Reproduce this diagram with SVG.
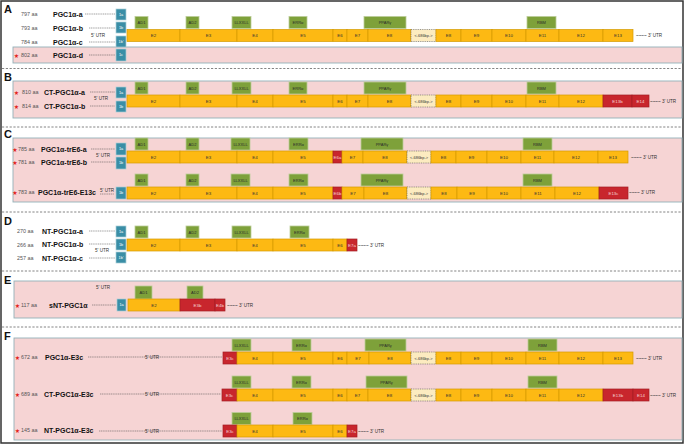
<svg xmlns="http://www.w3.org/2000/svg" width="685" height="445" viewBox="0 0 685 445">
<style>
text{font-family:"Liberation Sans",Arial,sans-serif;dominant-baseline:central}
.sec{font-size:11px;font-weight:bold;fill:#111}
.nm{font-size:7px;font-weight:bold;fill:#111}
.aa{font-size:5.4px;fill:#555}
.st{font-family:"DejaVu Sans",sans-serif;font-size:6px;fill:#e3221c;text-anchor:middle}
.utr{font-size:4.6px;fill:#333}
.ex{fill:#fdb913;stroke:#d39a00;stroke-width:0.7}
.exr{fill:#c8262d;stroke:#a31d23;stroke-width:0.7}
.ins{fill:#fcebc0;stroke:#555;stroke-width:0.6;stroke-dasharray:1 0.8}
.dom{fill:#7ea13a;stroke:#bccd98;stroke-width:0.8}
.e1{fill:#3a8ea6;stroke:#a9cfd8;stroke-width:0.7}
.pink{fill:#f6d4d4;stroke:#93b1b8;stroke-width:0.9}
.sep{stroke:#666;stroke-width:0.8;stroke-dasharray:2.2 1.6;fill:none}
.ln{stroke:#444;stroke-width:0.5;stroke-dasharray:1.2 0.6;fill:none}
.et{font-size:4.4px;fill:#333;text-anchor:middle}
.etr{font-size:4.4px;fill:#f6d6d6;text-anchor:middle}
.dt{font-size:4px;fill:#2a2a2a;text-anchor:middle}
.it{font-size:3.9px;fill:#333;text-anchor:middle}
.e1t{font-size:3.8px;fill:#fff;text-anchor:middle}
</style>
<rect x="1" y="1" width="682" height="442" fill="#fff" stroke="#333" stroke-width="1.5"/>
<g id="separators">
<line class="sep" x1="2" y1="68.5" x2="683" y2="68.5"/>
<line class="sep" x1="2" y1="127" x2="683" y2="127"/>
<line class="sep" x1="2" y1="212" x2="683" y2="212"/>
<line class="sep" x1="2" y1="271" x2="683" y2="271"/>
<line class="sep" x1="2" y1="327" x2="683" y2="327"/>
</g>
<g id="panels">
<rect class="pink" x="13" y="47" width="669" height="16"/>
<rect class="pink" x="13" y="81" width="669" height="37"/>
<rect class="pink" x="13" y="138" width="669" height="64"/>
<rect class="pink" x="14" y="281" width="668" height="37"/>
<rect class="pink" x="14" y="338" width="668" height="102"/>
<text class="sec" x="4" y="9">A</text>
<text class="sec" x="4" y="77">B</text>
<text class="sec" x="4" y="134">C</text>
<text class="sec" x="4" y="220.5">D</text>
<text class="sec" x="4" y="279.5">E</text>
<text class="sec" x="4" y="336">F</text>
</g>
<g id="connectors">
<line class="ln" x1="85" y1="14" x2="115" y2="14"/>
<line class="ln" x1="89" y1="28" x2="115" y2="28"/>
<line class="ln" x1="89" y1="42" x2="115" y2="42"/>
<line class="ln" x1="89" y1="55" x2="115" y2="55"/>
<line class="ln" x1="90" y1="92" x2="115" y2="92"/>
<line class="ln" x1="90" y1="106" x2="115" y2="106"/>
<line class="ln" x1="91" y1="149" x2="115" y2="149"/>
<line class="ln" x1="91" y1="162" x2="115" y2="162"/>
<line class="ln" x1="100" y1="194" x2="114" y2="194"/>
<line class="ln" x1="89" y1="231" x2="115" y2="231"/>
<line class="ln" x1="89" y1="244" x2="115" y2="244"/>
<line class="ln" x1="89" y1="258" x2="115" y2="258"/>
<line class="ln" x1="92" y1="305" x2="116" y2="305"/>
<line class="ln" x1="88" y1="357" x2="222" y2="357"/>
<line class="ln" x1="100" y1="394" x2="221" y2="394"/>
<line class="ln" x1="99" y1="431" x2="222" y2="431"/>
</g>
<g id="utr-labels">
<text class="utr" x="91" y="35">5' UTR</text>
<text class="utr" x="94" y="98.5">5' UTR</text>
<text class="utr" x="96" y="155.5">5' UTR</text>
<text class="utr" x="100" y="190.5">5' UTR</text>
<text class="utr" x="95" y="250.5">5' UTR</text>
<text class="utr" x="96" y="287">5' UTR</text>
<text class="utr" x="145" y="357">5' UTR</text>
<text class="utr" x="145" y="394">5' UTR</text>
<text class="utr" x="145" y="431">5' UTR</text>
<text class="utr" x="636" y="35.5">~~~~ 3' UTR</text>
<text class="utr" x="650" y="101">~~~~ 3' UTR</text>
<text class="utr" x="631" y="157">~~~~ 3' UTR</text>
<text class="utr" x="629" y="192.5">~~~~ 3' UTR</text>
<text class="utr" x="358" y="245">~~~~ 3' UTR</text>
<text class="utr" x="227" y="305">~~~~ 3' UTR</text>
<text class="utr" x="636" y="358">~~~~ 3' UTR</text>
<text class="utr" x="650" y="395">~~~~ 3' UTR</text>
<text class="utr" x="358" y="431">~~~~ 3' UTR</text>
</g>

<g id="PGC1a-a">
<text class="aa" x="21" y="14">797 aa</text><text class="nm" x="53" y="14">PGC1α-a</text>
<rect class="e1" x="116" y="9" width="10" height="11"/><text class="e1t" x="121" y="14.5">1a</text>
</g>
<g id="PGC1a-b">
<text class="aa" x="21" y="28">793 aa</text><text class="nm" x="53" y="28">PGC1α-b</text>
<rect class="e1" x="116" y="22" width="10" height="11"/><text class="e1t" x="121" y="27.5">1b</text>
</g>
<g id="PGC1a-c">
<text class="aa" x="21" y="42">784 aa</text><text class="nm" x="53" y="42">PGC1α-c</text>
<rect class="e1" x="116" y="36" width="10" height="11"/><text class="e1t" x="121" y="41.5">1b'</text>
</g>
<g id="PGC1a-d">
<text class="st" x="16.5" y="55">★</text><text class="aa" x="21" y="55">802 aa</text><text class="nm" x="53" y="55">PGC1α-d</text>
<rect class="e1" x="116" y="49" width="10" height="12"/><text class="e1t" x="121" y="55">1c</text>
</g>
<g id="row-A">
<rect class="dom" x="135" y="16.5" width="13" height="12"/><text class="dt" x="141.5" y="22.5">AD1</text>
<rect class="dom" x="186" y="16.5" width="13" height="12"/><text class="dt" x="192.5" y="22.5">AD2</text>
<rect class="dom" x="232" y="16.5" width="19" height="12"/><text class="dt" x="241.5" y="22.5">LLXXLL</text>
<rect class="dom" x="289" y="16.5" width="18" height="12"/><text class="dt" x="298" y="22.5">ERRα</text>
<rect class="dom" x="364" y="16.5" width="42" height="12"/><text class="dt" x="385" y="22.5">PPARγ</text>
<rect class="dom" x="527" y="16.5" width="29" height="12"/><text class="dt" x="541.5" y="22.5">RBM</text>
<rect class="ex" x="127" y="29.5" width="53" height="12"/><text class="et" x="153.5" y="35.5">E2</text>
<rect class="ex" x="180" y="29.5" width="57" height="12"/><text class="et" x="208.5" y="35.5">E3</text>
<rect class="ex" x="237" y="29.5" width="36" height="12"/><text class="et" x="255" y="35.5">E4</text>
<rect class="ex" x="273" y="29.5" width="60" height="12"/><text class="et" x="303" y="35.5">E5</text>
<rect class="ex" x="333" y="29.5" width="14" height="12"/><text class="et" x="340" y="35.5">E6</text>
<rect class="ex" x="347" y="29.5" width="21" height="12"/><text class="et" x="357.5" y="35.5">E7</text>
<rect class="ex" x="368" y="29.5" width="43" height="12"/><text class="et" x="389.5" y="35.5">E8</text>
<rect class="ins" x="411" y="29.5" width="25" height="12"/><text class="it" x="423.5" y="35.5">&lt;-686bp-&gt;</text>
<rect class="ex" x="436" y="29.5" width="25" height="12"/><text class="et" x="448.5" y="35.5">E8</text>
<rect class="ex" x="461" y="29.5" width="31" height="12"/><text class="et" x="476.5" y="35.5">E9</text>
<rect class="ex" x="492" y="29.5" width="34" height="12"/><text class="et" x="509" y="35.5">E10</text>
<rect class="ex" x="526" y="29.5" width="33" height="12"/><text class="et" x="542.5" y="35.5">E11</text>
<rect class="ex" x="559" y="29.5" width="44" height="12"/><text class="et" x="581" y="35.5">E12</text>
<rect class="ex" x="603" y="29.5" width="30" height="12"/><text class="et" x="618" y="35.5">E13</text>
</g>

<g id="CT-PGC1a-a">
<text class="st" x="16.5" y="92">★</text><text class="aa" x="22" y="92">810 aa</text><text class="nm" x="44" y="92">CT-PGC1α-a</text>
<rect class="e1" x="116" y="87" width="10" height="11"/><text class="e1t" x="121" y="92.5">1a</text>
</g>
<g id="CT-PGC1a-b">
<text class="st" x="16.5" y="106">★</text><text class="aa" x="22" y="106">814 aa</text><text class="nm" x="44" y="106">CT-PGC1α-b</text>
<rect class="e1" x="116" y="101" width="10" height="11"/><text class="e1t" x="121" y="106.5">1b</text>
</g>
<g id="row-B">
<rect class="dom" x="135" y="82" width="13" height="12"/><text class="dt" x="141.5" y="88">AD1</text>
<rect class="dom" x="186" y="82" width="13" height="12"/><text class="dt" x="192.5" y="88">AD2</text>
<rect class="dom" x="232" y="82" width="19" height="12"/><text class="dt" x="241.5" y="88">LLXXLL</text>
<rect class="dom" x="289" y="82" width="18" height="12"/><text class="dt" x="298" y="88">ERRα</text>
<rect class="dom" x="364" y="82" width="42" height="12"/><text class="dt" x="385" y="88">PPARγ</text>
<rect class="dom" x="527" y="82" width="29" height="12"/><text class="dt" x="541.5" y="88">RBM</text>
<rect class="ex" x="127" y="95" width="53" height="12"/><text class="et" x="153.5" y="101">E2</text>
<rect class="ex" x="180" y="95" width="57" height="12"/><text class="et" x="208.5" y="101">E3</text>
<rect class="ex" x="237" y="95" width="36" height="12"/><text class="et" x="255" y="101">E4</text>
<rect class="ex" x="273" y="95" width="60" height="12"/><text class="et" x="303" y="101">E5</text>
<rect class="ex" x="333" y="95" width="14" height="12"/><text class="et" x="340" y="101">E6</text>
<rect class="ex" x="347" y="95" width="21" height="12"/><text class="et" x="357.5" y="101">E7</text>
<rect class="ex" x="368" y="95" width="43" height="12"/><text class="et" x="389.5" y="101">E8</text>
<rect class="ins" x="411" y="95" width="25" height="12"/><text class="it" x="423.5" y="101">&lt;-686bp-&gt;</text>
<rect class="ex" x="436" y="95" width="25" height="12"/><text class="et" x="448.5" y="101">E8</text>
<rect class="ex" x="461" y="95" width="31" height="12"/><text class="et" x="476.5" y="101">E9</text>
<rect class="ex" x="492" y="95" width="34" height="12"/><text class="et" x="509" y="101">E10</text>
<rect class="ex" x="526" y="95" width="33" height="12"/><text class="et" x="542.5" y="101">E11</text>
<rect class="ex" x="559" y="95" width="44" height="12"/><text class="et" x="581" y="101">E12</text>
<rect class="exr" x="603" y="95" width="29" height="12"/><text class="etr" x="617.5" y="101">E13b</text>
<rect class="exr" x="632" y="95" width="17" height="12"/><text class="etr" x="640.5" y="101">E14</text>
</g>

<g id="PGC1a-trE6-a">
<text class="st" x="15" y="149">★</text><text class="aa" x="18" y="149">785 aa</text><text class="nm" x="41" y="149">PGC1α-trE6-a</text>
<rect class="e1" x="116" y="143" width="10" height="12"/><text class="e1t" x="121" y="149">1a</text>
</g>
<g id="PGC1a-trE6-b">
<text class="st" x="15" y="162">★</text><text class="aa" x="18" y="162">781 aa</text><text class="nm" x="41" y="162">PGC1α-trE6-b</text>
<rect class="e1" x="116" y="157" width="10" height="12"/><text class="e1t" x="121" y="163">1b</text>
</g>
<g id="row-C1">
<rect class="dom" x="135" y="138" width="13" height="12"/><text class="dt" x="141.5" y="144">AD1</text>
<rect class="dom" x="186" y="138" width="13" height="12"/><text class="dt" x="192.5" y="144">AD2</text>
<rect class="dom" x="231" y="138" width="19" height="12"/><text class="dt" x="240.5" y="144">LLXXLL</text>
<rect class="dom" x="289" y="138" width="19" height="12"/><text class="dt" x="298.5" y="144">ERRα</text>
<rect class="dom" x="361" y="138" width="42" height="12"/><text class="dt" x="382" y="144">PPARγ</text>
<rect class="dom" x="523" y="138" width="29" height="12"/><text class="dt" x="537.5" y="144">RBM</text>
<rect class="ex" x="127" y="151" width="53" height="12"/><text class="et" x="153.5" y="157">E2</text>
<rect class="ex" x="180" y="151" width="57" height="12"/><text class="et" x="208.5" y="157">E3</text>
<rect class="ex" x="237" y="151" width="36" height="12"/><text class="et" x="255" y="157">E4</text>
<rect class="ex" x="273" y="151" width="60" height="12"/><text class="et" x="303" y="157">E5</text>
<rect class="exr" x="333" y="151" width="9" height="12"/><text class="etr" x="337.5" y="157">E6a</text>
<rect class="ex" x="342" y="151" width="21" height="12"/><text class="et" x="352.5" y="157">E7</text>
<rect class="ex" x="363" y="151" width="44" height="12"/><text class="et" x="385" y="157">E8</text>
<rect class="ins" x="407" y="151" width="24" height="12"/><text class="it" x="419" y="157">&lt;-686bp-&gt;</text>
<rect class="ex" x="431" y="151" width="25" height="12"/><text class="et" x="443.5" y="157">E8</text>
<rect class="ex" x="456" y="151" width="31" height="12"/><text class="et" x="471.5" y="157">E9</text>
<rect class="ex" x="487" y="151" width="34" height="12"/><text class="et" x="504" y="157">E10</text>
<rect class="ex" x="521" y="151" width="33" height="12"/><text class="et" x="537.5" y="157">E11</text>
<rect class="ex" x="554" y="151" width="44" height="12"/><text class="et" x="576" y="157">E12</text>
<rect class="ex" x="598" y="151" width="30" height="12"/><text class="et" x="613" y="157">E13</text>
</g>

<g id="PGC1a-trE6-E13c">
<text class="st" x="15" y="192">★</text><text class="aa" x="18" y="192">783 aa</text><text class="nm" x="38" y="192">PGC1α-trE6-E13c</text>
<rect class="e1" x="116" y="187" width="10" height="12"/><text class="e1t" x="121" y="193">1b</text>
<rect class="dom" x="135" y="174" width="13" height="12"/><text class="dt" x="141.5" y="180">AD1</text>
<rect class="dom" x="186" y="174" width="13" height="12"/><text class="dt" x="192.5" y="180">AD2</text>
<rect class="dom" x="231" y="174" width="19" height="12"/><text class="dt" x="240.5" y="180">LLXXLL</text>
<rect class="dom" x="289" y="174" width="19" height="12"/><text class="dt" x="298.5" y="180">ERRα</text>
<rect class="dom" x="361" y="174" width="42" height="12"/><text class="dt" x="382" y="180">PPARγ</text>
<rect class="dom" x="523" y="174" width="29" height="12"/><text class="dt" x="537.5" y="180">RBM</text>
<rect class="ex" x="127" y="187" width="53" height="12"/><text class="et" x="153.5" y="193">E2</text>
<rect class="ex" x="180" y="187" width="57" height="12"/><text class="et" x="208.5" y="193">E3</text>
<rect class="ex" x="237" y="187" width="36" height="12"/><text class="et" x="255" y="193">E4</text>
<rect class="ex" x="273" y="187" width="60" height="12"/><text class="et" x="303" y="193">E5</text>
<rect class="exr" x="333" y="187" width="9" height="12"/><text class="etr" x="337.5" y="193">E6b</text>
<rect class="ex" x="342" y="187" width="22" height="12"/><text class="et" x="353" y="193">E7</text>
<rect class="ex" x="364" y="187" width="43" height="12"/><text class="et" x="385.5" y="193">E8</text>
<rect class="ins" x="407" y="187" width="24" height="12"/><text class="it" x="419" y="193">&lt;-686bp-&gt;</text>
<rect class="ex" x="431" y="187" width="26" height="12"/><text class="et" x="444" y="193">E8</text>
<rect class="ex" x="457" y="187" width="30" height="12"/><text class="et" x="472" y="193">E9</text>
<rect class="ex" x="487" y="187" width="34" height="12"/><text class="et" x="504" y="193">E10</text>
<rect class="ex" x="521" y="187" width="34" height="12"/><text class="et" x="538" y="193">E11</text>
<rect class="ex" x="555" y="187" width="44" height="12"/><text class="et" x="577" y="193">E12</text>
<rect class="exr" x="599" y="187" width="29" height="12"/><text class="etr" x="613.5" y="193">E13c</text>
</g>

<g id="NT-PGC1a-a">
<text class="aa" x="17" y="231">270 aa</text><text class="nm" x="42" y="231">NT-PGC1α-a</text>
<rect class="e1" x="116" y="226" width="10" height="11"/><text class="e1t" x="121" y="231.5">1a</text>
</g>
<g id="NT-PGC1a-b">
<text class="aa" x="17" y="244.5">266 aa</text><text class="nm" x="42" y="244.5">NT-PGC1α-b</text>
<rect class="e1" x="116" y="239" width="10" height="11"/><text class="e1t" x="121" y="244.5">1b</text>
</g>
<g id="NT-PGC1a-c">
<text class="aa" x="17" y="258">257 aa</text><text class="nm" x="42" y="258">NT-PGC1α-c</text>
<rect class="e1" x="116" y="252" width="10" height="11"/><text class="e1t" x="121" y="257.5">1b'</text>
</g>
<g id="row-D">
<rect class="dom" x="135" y="226" width="13" height="12"/><text class="dt" x="141.5" y="232">AD1</text>
<rect class="dom" x="186" y="226" width="13" height="12"/><text class="dt" x="192.5" y="232">AD2</text>
<rect class="dom" x="232" y="226" width="19" height="12"/><text class="dt" x="241.5" y="232">LLXXLL</text>
<rect class="dom" x="290" y="226" width="19" height="12"/><text class="dt" x="299.5" y="232">ERRα</text>
<rect class="ex" x="127" y="239" width="53" height="12"/><text class="et" x="153.5" y="245">E2</text>
<rect class="ex" x="180" y="239" width="57" height="12"/><text class="et" x="208.5" y="245">E3</text>
<rect class="ex" x="237" y="239" width="36" height="12"/><text class="et" x="255" y="245">E4</text>
<rect class="ex" x="273" y="239" width="60" height="12"/><text class="et" x="303" y="245">E5</text>
<rect class="ex" x="333" y="239" width="14" height="12"/><text class="et" x="340" y="245">E6</text>
<rect class="exr" x="347" y="239" width="10" height="12"/><text class="etr" x="352" y="245">E7a</text>
</g>

<g id="sNT-PGC1a">
<text class="st" x="17.5" y="305">★</text><text class="aa" x="21" y="305">117 aa</text><text class="nm" x="49" y="305">sNT-PGC1α</text>
<rect class="e1" x="117" y="299" width="9" height="12"/><text class="e1t" x="121.5" y="305">1a</text>
<rect class="dom" x="135" y="286" width="17" height="13"/><text class="dt" x="143.5" y="292.5">AD1</text>
<rect class="dom" x="187" y="286" width="16" height="13"/><text class="dt" x="195" y="292.5">AD2</text>
<rect class="ex" x="128" y="299" width="52" height="12"/><text class="et" x="154" y="305">E2</text>
<rect class="exr" x="180" y="299" width="35" height="12"/><text class="etr" x="197.5" y="305">E3b</text>
<rect class="exr" x="215" y="299" width="10" height="12"/><text class="etr" x="220" y="305">E4b</text>
</g>

<g id="PGC1a-E3c">
<text class="st" x="17.5" y="357">★</text><text class="aa" x="21" y="357">672 aa</text><text class="nm" x="45" y="357">PGC1α-E3c</text>
<rect class="dom" x="232" y="339" width="19" height="12"/><text class="dt" x="241.5" y="345">LLXXLL</text>
<rect class="dom" x="292" y="339" width="19" height="12"/><text class="dt" x="301.5" y="345">ERRα</text>
<rect class="dom" x="365" y="339" width="41" height="12"/><text class="dt" x="385.5" y="345">PPARγ</text>
<rect class="dom" x="528" y="339" width="29" height="12"/><text class="dt" x="542.5" y="345">RBM</text>
<rect class="exr" x="223" y="352" width="14" height="12"/><text class="etr" x="230" y="358">E3c</text>
<rect class="ex" x="237" y="352" width="36" height="12"/><text class="et" x="255" y="358">E4</text>
<rect class="ex" x="273" y="352" width="60" height="12"/><text class="et" x="303" y="358">E5</text>
<rect class="ex" x="333" y="352" width="14" height="12"/><text class="et" x="340" y="358">E6</text>
<rect class="ex" x="347" y="352" width="22" height="12"/><text class="et" x="358" y="358">E7</text>
<rect class="ex" x="369" y="352" width="42" height="12"/><text class="et" x="390" y="358">E8</text>
<rect class="ins" x="411" y="352" width="25" height="12"/><text class="it" x="423.5" y="358">&lt;-686bp-&gt;</text>
<rect class="ex" x="436" y="352" width="25" height="12"/><text class="et" x="448.5" y="358">E8</text>
<rect class="ex" x="461" y="352" width="31" height="12"/><text class="et" x="476.5" y="358">E9</text>
<rect class="ex" x="492" y="352" width="34" height="12"/><text class="et" x="509" y="358">E10</text>
<rect class="ex" x="526" y="352" width="33" height="12"/><text class="et" x="542.5" y="358">E11</text>
<rect class="ex" x="559" y="352" width="44" height="12"/><text class="et" x="581" y="358">E12</text>
<rect class="ex" x="603" y="352" width="30" height="12"/><text class="et" x="618" y="358">E13</text>
</g>

<g id="CT-PGC1a-E3c">
<text class="st" x="17.5" y="394">★</text><text class="aa" x="21" y="394">689 aa</text><text class="nm" x="44" y="394">CT-PGC1α-E3c</text>
<rect class="dom" x="232" y="376" width="19" height="12"/><text class="dt" x="241.5" y="382">LLXXLL</text>
<rect class="dom" x="292" y="376" width="19" height="12"/><text class="dt" x="301.5" y="382">ERRα</text>
<rect class="dom" x="366" y="376" width="41" height="12"/><text class="dt" x="386.5" y="382">PPARγ</text>
<rect class="dom" x="528" y="376" width="29" height="12"/><text class="dt" x="542.5" y="382">RBM</text>
<rect class="exr" x="222" y="389" width="15" height="12"/><text class="etr" x="229.5" y="395">E3c</text>
<rect class="ex" x="237" y="389" width="36" height="12"/><text class="et" x="255" y="395">E4</text>
<rect class="ex" x="273" y="389" width="60" height="12"/><text class="et" x="303" y="395">E5</text>
<rect class="ex" x="333" y="389" width="14" height="12"/><text class="et" x="340" y="395">E6</text>
<rect class="ex" x="347" y="389" width="21" height="12"/><text class="et" x="357.5" y="395">E7</text>
<rect class="ex" x="368" y="389" width="43" height="12"/><text class="et" x="389.5" y="395">E8</text>
<rect class="ins" x="411" y="389" width="25" height="12"/><text class="it" x="423.5" y="395">&lt;-686bp-&gt;</text>
<rect class="ex" x="436" y="389" width="25" height="12"/><text class="et" x="448.5" y="395">E8</text>
<rect class="ex" x="461" y="389" width="31" height="12"/><text class="et" x="476.5" y="395">E9</text>
<rect class="ex" x="492" y="389" width="34" height="12"/><text class="et" x="509" y="395">E10</text>
<rect class="ex" x="526" y="389" width="33" height="12"/><text class="et" x="542.5" y="395">E11</text>
<rect class="ex" x="559" y="389" width="44" height="12"/><text class="et" x="581" y="395">E12</text>
<rect class="exr" x="603" y="389" width="30" height="12"/><text class="etr" x="618" y="395">E13b</text>
<rect class="exr" x="633" y="389" width="16" height="12"/><text class="etr" x="641" y="395">E14</text>
</g>

<g id="NT-PGC1a-E3c">
<text class="st" x="17.5" y="430">★</text><text class="aa" x="21" y="430">145 aa</text><text class="nm" x="44" y="430">NT-PGC1α-E3c</text>
<rect class="dom" x="232" y="412.5" width="19" height="12"/><text class="dt" x="241.5" y="418.5">LLXXLL</text>
<rect class="dom" x="293" y="412.5" width="19" height="12"/><text class="dt" x="302.5" y="418.5">ERRα</text>
<rect class="exr" x="223" y="425" width="14" height="12"/><text class="etr" x="230" y="431">E3c</text>
<rect class="ex" x="237" y="425" width="36" height="12"/><text class="et" x="255" y="431">E4</text>
<rect class="ex" x="273" y="425" width="60" height="12"/><text class="et" x="303" y="431">E5</text>
<rect class="ex" x="333" y="425" width="14" height="12"/><text class="et" x="340" y="431">E6</text>
<rect class="exr" x="347" y="425" width="10" height="12"/><text class="etr" x="352" y="431">E7a</text>
</g>
</svg>
